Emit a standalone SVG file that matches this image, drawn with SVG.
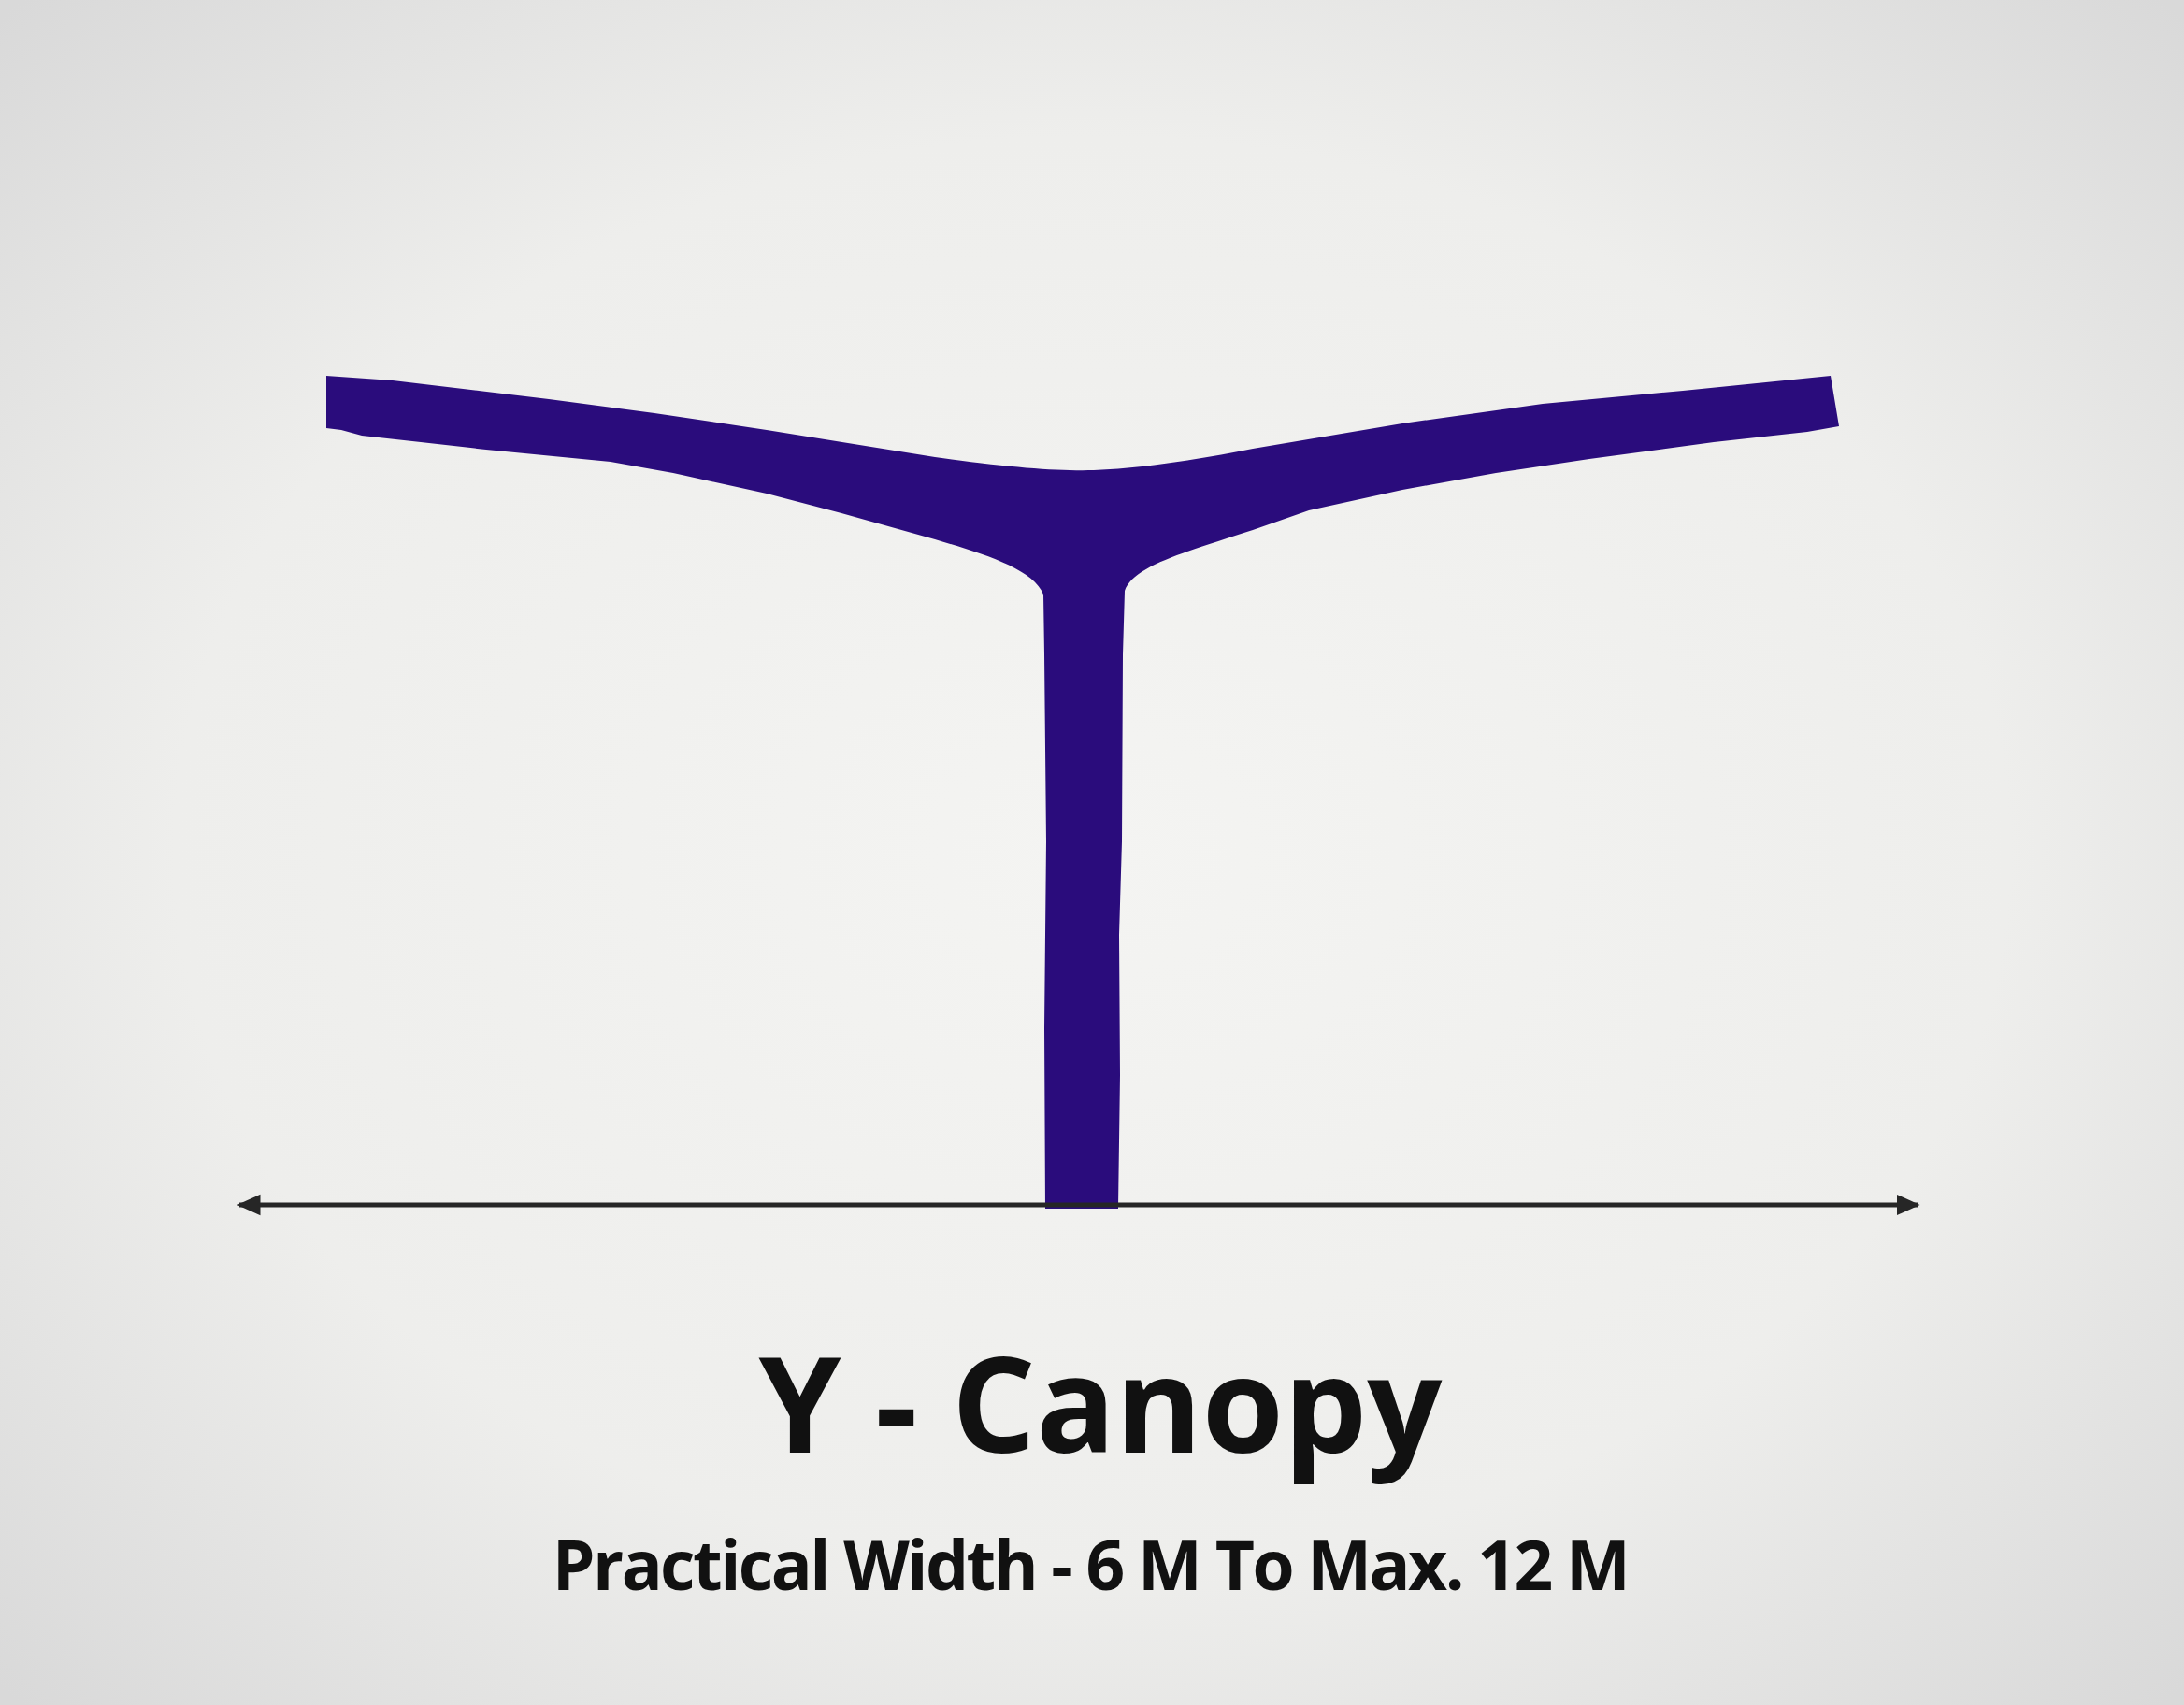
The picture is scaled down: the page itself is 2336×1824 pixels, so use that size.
<svg xmlns="http://www.w3.org/2000/svg" width="2336" height="1824" viewBox="0 0 2336 1824">
  <defs>
    <radialGradient id="bg" cx="50%" cy="50%" r="70%">
      <stop offset="0" stop-color="#f4f4f2"/>
      <stop offset="0.6" stop-color="#eeeeec"/>
      <stop offset="1" stop-color="#d9d9d9"/>
    </radialGradient>
    <marker id="arrowEnd" viewBox="0 0 10 10" refX="9" refY="5" markerWidth="5" markerHeight="5" orient="auto" markerUnits="strokeWidth">
      <path d="M0,0.5 L10,5 L0,9.5 Z" fill="#262626"/>
    </marker>
    <marker id="arrowStart" viewBox="0 0 10 10" refX="1" refY="5" markerWidth="5" markerHeight="5" orient="auto" markerUnits="strokeWidth">
      <path d="M10,0.5 L0,5 L10,9.5 Z" fill="#262626"/>
    </marker>
    <style>
      .canopy { fill: #2a0c7c; }
      .dim { stroke: #262626; stroke-width: 5; fill: none; }
      .title { font-family: "Open Sans", "Liberation Sans", sans-serif; font-weight: 700; fill: #111111; text-anchor: middle; }
    </style>
  </defs>
  <rect x="0" y="0" width="2336" height="1824" fill="url(#bg)"/>

  <g id="canopy">
    <path class="canopy" d="M349,402 L420,407 L587,427 L700,442 L820,460 L1000,489 C1080,500 1130,504 1170,503 C1230,500 1290,490 1340,480 L1500,453 L1650,432 L1800,418 L1958,402 L1967,456 L1933,462 L1833,473 L1700,491 L1600,506 L1500,524 L1400,546 L1340,567 C1270,590 1212,605 1203,632 L1201,700 L1200,900 L1197,1000 L1198,1150 L1196,1293 L1118,1293 L1117,1100 L1119,900 L1117,700 L1116,636 C1105,608 1050,592 1000,577 L900,549 L820,528 L720,506 L653,494 L520,481 L450,473 L387,466 L365,460 L349,458 Z"/>
  </g>

  <g id="connectors">
    <line class="dim" x1="256" y1="1289" x2="2051" y2="1289" marker-start="url(#arrowStart)" marker-end="url(#arrowEnd)"/>
  </g>

  <g id="labels">
    <text class="title" x="1177" y="1554" font-size="141">Y - Canopy</text>
    <text class="title" x="1166" y="1701" font-size="73" letter-spacing="-2.6">Practical Width - 6 M To Max. 12 M</text>
  </g>
</svg>
